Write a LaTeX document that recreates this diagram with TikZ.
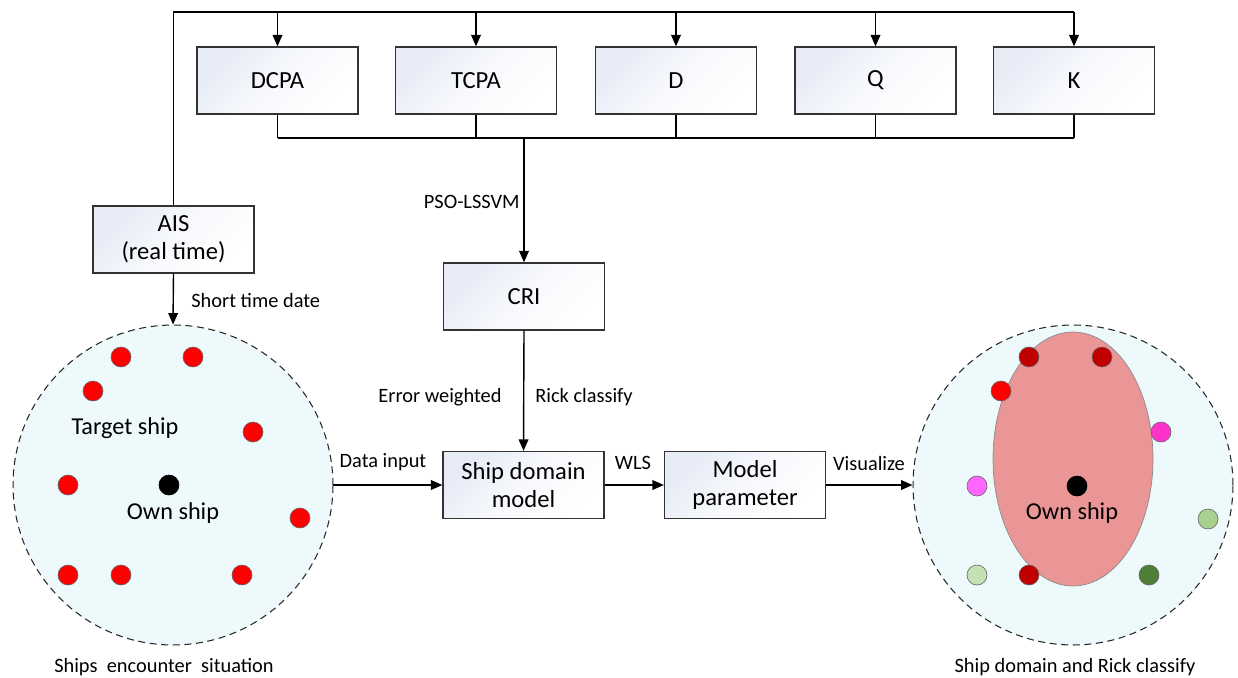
\documentclass[tikz,border=0pt]{standalone}
\usepackage{fontspec}
\setmainfont{Carlito}
\usetikzlibrary{arrows.meta,shapes.geometric}
\definecolor{seabg}{HTML}{EEF9FC}
\definecolor{boxtint}{HTML}{E6EBF6}
\definecolor{domainfill}{HTML}{EA9696}
\definecolor{riskhigh}{HTML}{C00000}
\definecolor{riskred}{HTML}{FF0000}
\definecolor{riskpink}{HTML}{FF33CC}
\definecolor{risklilac}{HTML}{FF66FF}
\definecolor{safelight}{HTML}{A9D18E}
\definecolor{safepale}{HTML}{C5E0B4}
\definecolor{safedark}{HTML}{4E7F34}
\begin{document}
\begin{tikzpicture}[x=0.02cm,y=-0.02cm,box/.style={draw=black!80,line width=0.75pt,top color=boxtint,bottom color=white,middle color=white!70!boxtint,shading angle=45,minimum width=3.22cm,minimum height=1.34cm,inner sep=0pt,align=center,font=\fontsize{14}{16}\selectfont},a/.style={-{Triangle[length=6.5pt,width=5.5pt]},line width=0.8pt},lbl/.style={font=\fontsize{11.6}{13}\selectfont,inner sep=0pt},zone/.style={circle,draw=black!85,dashed,dash pattern=on 4pt off 2.6pt,line width=0.6pt,fill=seabg,minimum size=6.4cm,inner sep=0pt},dot/.style={circle,draw=black!60,line width=0.35pt,fill=riskred,minimum size=0.4cm,inner sep=0pt},txt/.style={font=\fontsize{13.8}{16}\selectfont,inner sep=0pt}]
\useasboundingbox (0,0) rectangle (1238,677);
% factor boxes
\node[box] (dcpa) at (277.5,80.5) {DCPA};
\node[box] (tcpa) at (476,80.5) {TCPA};
\node[box] (d) at (676,80.5) {D};
\node[box] (q) at (875.5,80.5) {Q};
\node[box] (k) at (1074,80.5) {K};
\node[box] (ais) at (173.5,239.5) {AIS\\(real time)};
\node[box] (cri) at (524,296.5) {CRI};
\node[box] (sdm) at (523.5,485) {Ship domain\\model};
\node[box] (mp) at (745,485) {Model\\parameter};
% encounter situation
\node[zone] (enc) at (173,485) {};
\foreach \p [count=\i] in {(121,357),(193,357),(93,391),(253,432),(68,485),(300,518),(68,575),(121,575),(242,575)}
  \node[dot] (ts\i) at \p {};
\node[dot,fill=black,draw=black] (own) at (169,485) {};
\node[txt] (tlbl) at (125,428) {Target ship};
\node[txt] (olbl) at (173,513) {Own ship};
\node[lbl] (encap) at (164,667) {Ships\ \ encounter\ \ situation};
% ship domain
\node[zone] (dom) at (1073,485) {};
\node[ellipse,draw=black!45,line width=0.4pt,fill=domainfill,minimum width=3.2cm,minimum height=5.08cm,inner sep=0pt] (ell) at (1073,459) {};
\foreach \x/\y/\c [count=\i] in {1029/357/riskhigh,1102/357/riskhigh,1001/391/riskred,1161/432/riskpink,977/486/risklilac,1208/519/safelight,977/575/safepale,1029/575/riskhigh,1149/575/safedark}
  \node[dot,fill=\c] (rs\i) at (\x,\y) {};
\node[dot,fill=black,draw=black] (own2) at (1077,486) {};
\node[txt] (olbl2) at (1072,513) {Own ship};
\node[lbl] (domcap) at (1075,667) {Ship domain and Rick classify};
% connectors
\coordinate (bus) at (0,12);
\coordinate (bus2) at (0,138);
\draw[line width=0.8pt] (ais.north) -- (ais.north|-bus) -- (k.north|-bus);
\foreach \n in {dcpa,tcpa,d,q,k} \draw[a] (\n.north|-bus) -- (\n.north);
\foreach \n in {dcpa,tcpa,d,q,k} \draw[line width=0.8pt] (\n.south) -- (\n.south|-bus2);
\draw[line width=0.8pt] (dcpa.south|-bus2) -- (k.south|-bus2);
\draw[a] (cri.north|-bus2) -- (cri.north);
\draw[a] (ais.south) -- (enc.north);
\draw[a] (cri.south) -- (sdm.north);
\draw[a] (enc.east) -- (sdm.west);
\draw[a] (sdm.east) -- (mp.west);
\draw[a] (mp.east) -- (dom.west);
% edge labels
\node[lbl,anchor=east] (pso) at (520,202) {PSO-LSSVM};
\node[lbl,anchor=west] (std) at (191,300) {Short time date};
\node[lbl] (errw) at (440,397) {Error weighted};
\node[lbl] (rick) at (584,397) {Rick classify};
\node[lbl] (din) at (383,462) {Data input};
\node[lbl] (wls) at (633,463) {WLS};
\node[lbl] (vis) at (869,463) {Visualize};
\end{tikzpicture}
\end{document}
